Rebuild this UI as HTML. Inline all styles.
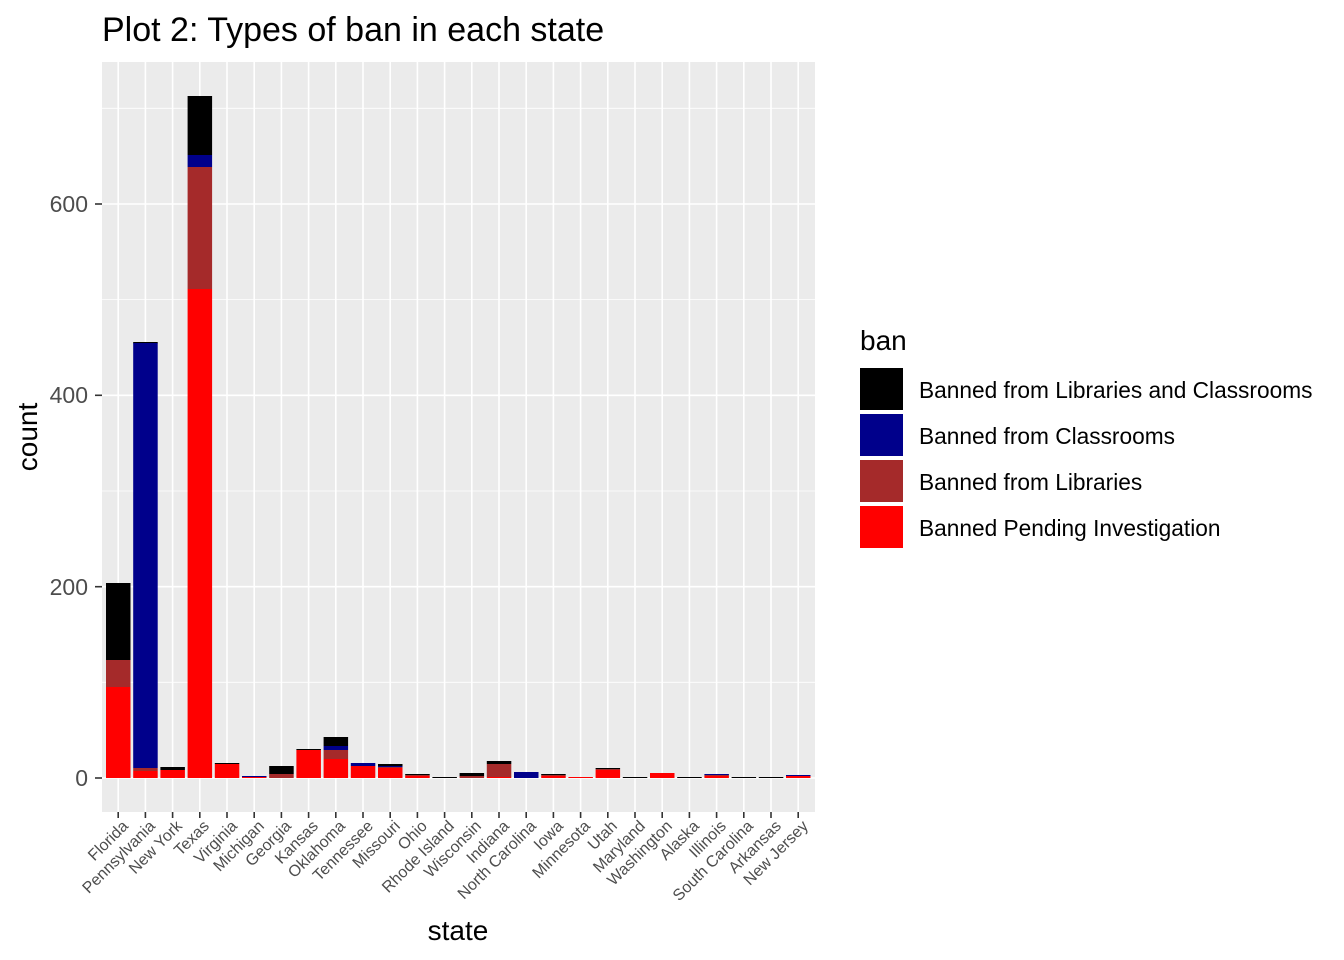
<!DOCTYPE html>
<html><head><meta charset="utf-8"><style>body{margin:0;background:#fff}svg{display:block;font-family:"Liberation Sans",Arial,sans-serif}</style></head><body>
<svg width="1344" height="960" viewBox="0 0 1344 960">
<rect width="1344" height="960" fill="#fff"/>
<text x="102" y="41" font-size="34" fill="#000">Plot 2: Types of ban in each state</text>
<rect x="102" y="62" width="713" height="750" fill="#ebebeb"/>
<g stroke="#fff" stroke-width="0.8">
<line x1="102" x2="815" y1="682.3" y2="682.3"/><line x1="102" x2="815" y1="491" y2="491"/><line x1="102" x2="815" y1="299.6" y2="299.6"/><line x1="102" x2="815" y1="108.3" y2="108.3"/>
</g>
<g stroke="#fff" stroke-width="1.6">
<line x1="102" x2="815" y1="778" y2="778"/><line x1="102" x2="815" y1="586.7" y2="586.7"/><line x1="102" x2="815" y1="395.3" y2="395.3"/><line x1="102" x2="815" y1="204" y2="204"/>
<line x1="118.2" x2="118.2" y1="62" y2="812"/><line x1="145.4" x2="145.4" y1="62" y2="812"/><line x1="172.6" x2="172.6" y1="62" y2="812"/><line x1="199.8" x2="199.8" y1="62" y2="812"/><line x1="227" x2="227" y1="62" y2="812"/><line x1="254.2" x2="254.2" y1="62" y2="812"/><line x1="281.4" x2="281.4" y1="62" y2="812"/><line x1="308.6" x2="308.6" y1="62" y2="812"/><line x1="335.8" x2="335.8" y1="62" y2="812"/><line x1="363" x2="363" y1="62" y2="812"/><line x1="390.2" x2="390.2" y1="62" y2="812"/><line x1="417.4" x2="417.4" y1="62" y2="812"/><line x1="444.6" x2="444.6" y1="62" y2="812"/><line x1="471.8" x2="471.8" y1="62" y2="812"/><line x1="499" x2="499" y1="62" y2="812"/><line x1="526.2" x2="526.2" y1="62" y2="812"/><line x1="553.4" x2="553.4" y1="62" y2="812"/><line x1="580.6" x2="580.6" y1="62" y2="812"/><line x1="607.8" x2="607.8" y1="62" y2="812"/><line x1="635" x2="635" y1="62" y2="812"/><line x1="662.2" x2="662.2" y1="62" y2="812"/><line x1="689.4" x2="689.4" y1="62" y2="812"/><line x1="716.6" x2="716.6" y1="62" y2="812"/><line x1="743.8" x2="743.8" y1="62" y2="812"/><line x1="771" x2="771" y1="62" y2="812"/><line x1="798.2" x2="798.2" y1="62" y2="812"/>
</g>
<g>
<rect x="106" y="583" width="24.5" height="77" fill="#000"/><rect x="106" y="660" width="24.5" height="27" fill="#A52A2A"/><rect x="106" y="687" width="24.5" height="91" fill="#f00"/>
<rect x="133.2" y="342" width="24.5" height="1.5" fill="#000"/><rect x="133.2" y="343" width="24.5" height="425" fill="#00008B"/><rect x="133.2" y="768" width="24.5" height="3" fill="#A52A2A"/><rect x="133.2" y="771" width="24.5" height="7" fill="#f00"/>
<rect x="160.4" y="767" width="24.5" height="3" fill="#000"/><rect x="160.4" y="770" width="24.5" height="8" fill="#f00"/>
<rect x="187.6" y="96" width="24.5" height="59" fill="#000"/><rect x="187.6" y="155" width="24.5" height="12" fill="#00008B"/><rect x="187.6" y="167" width="24.5" height="122" fill="#A52A2A"/><rect x="187.6" y="289" width="24.5" height="489" fill="#f00"/>
<rect x="214.8" y="763" width="24.5" height="1" fill="#000"/><rect x="214.8" y="764" width="24.5" height="14" fill="#f00"/>
<rect x="242" y="776" width="24.5" height="1" fill="#00008B"/><rect x="242" y="777" width="24.5" height="1" fill="#f00"/>
<rect x="269.2" y="766" width="24.5" height="8" fill="#000"/><rect x="269.2" y="774" width="24.5" height="4" fill="#A52A2A"/>
<rect x="296.4" y="749" width="24.5" height="1" fill="#000"/><rect x="296.4" y="750" width="24.5" height="28" fill="#f00"/>
<rect x="323.6" y="737" width="24.5" height="9" fill="#000"/><rect x="323.6" y="746" width="24.5" height="4" fill="#00008B"/><rect x="323.6" y="750" width="24.5" height="9" fill="#A52A2A"/><rect x="323.6" y="759" width="24.5" height="19" fill="#f00"/>
<rect x="350.8" y="763" width="24.5" height="3" fill="#00008B"/><rect x="350.8" y="766" width="24.5" height="12" fill="#f00"/>
<rect x="378" y="764" width="24.5" height="2" fill="#000"/><rect x="378" y="766" width="24.5" height="1" fill="#00008B"/><rect x="378" y="767" width="24.5" height="1" fill="#A52A2A"/><rect x="378" y="768" width="24.5" height="10" fill="#f00"/>
<rect x="405.2" y="774" width="24.5" height="1" fill="#000"/><rect x="405.2" y="775" width="24.5" height="1" fill="#A52A2A"/><rect x="405.2" y="776" width="24.5" height="2" fill="#f00"/>
<rect x="432.4" y="777" width="24.5" height="1" fill="#000"/>
<rect x="459.6" y="773" width="24.5" height="3" fill="#000"/><rect x="459.6" y="776" width="24.5" height="2" fill="#A52A2A"/>
<rect x="486.8" y="761" width="24.5" height="3" fill="#000"/><rect x="486.8" y="764" width="24.5" height="13" fill="#A52A2A"/><rect x="486.8" y="777" width="24.5" height="1" fill="#f00"/>
<rect x="514" y="772" width="24.5" height="6" fill="#00008B"/>
<rect x="541.2" y="774" width="24.5" height="1" fill="#000"/><rect x="541.2" y="775" width="24.5" height="1" fill="#A52A2A"/><rect x="541.2" y="776" width="24.5" height="2" fill="#f00"/>
<rect x="568.4" y="777" width="24.5" height="1" fill="#f00"/>
<rect x="595.6" y="768" width="24.5" height="1" fill="#000"/><rect x="595.6" y="769" width="24.5" height="1" fill="#A52A2A"/><rect x="595.6" y="770" width="24.5" height="8" fill="#f00"/>
<rect x="622.8" y="777" width="24.5" height="1" fill="#000"/>
<rect x="650" y="773" width="24.5" height="5" fill="#f00"/>
<rect x="677.2" y="777" width="24.5" height="1" fill="#000"/>
<rect x="704.4" y="774" width="24.5" height="1" fill="#00008B"/><rect x="704.4" y="775" width="24.5" height="1" fill="#A52A2A"/><rect x="704.4" y="776" width="24.5" height="2" fill="#f00"/>
<rect x="731.6" y="777" width="24.5" height="1" fill="#000"/>
<rect x="758.8" y="777" width="24.5" height="1" fill="#000"/>
<rect x="786" y="775" width="24.5" height="1" fill="#00008B"/><rect x="786" y="776" width="24.5" height="2" fill="#f00"/>
</g>
<g stroke="#333" stroke-width="1.6">
<line x1="95" x2="102" y1="778" y2="778"/><line x1="95" x2="102" y1="586.7" y2="586.7"/><line x1="95" x2="102" y1="395.3" y2="395.3"/><line x1="95" x2="102" y1="204" y2="204"/>
<line x1="118.2" x2="118.2" y1="812" y2="818"/><line x1="145.4" x2="145.4" y1="812" y2="818"/><line x1="172.6" x2="172.6" y1="812" y2="818"/><line x1="199.8" x2="199.8" y1="812" y2="818"/><line x1="227" x2="227" y1="812" y2="818"/><line x1="254.2" x2="254.2" y1="812" y2="818"/><line x1="281.4" x2="281.4" y1="812" y2="818"/><line x1="308.6" x2="308.6" y1="812" y2="818"/><line x1="335.8" x2="335.8" y1="812" y2="818"/><line x1="363" x2="363" y1="812" y2="818"/><line x1="390.2" x2="390.2" y1="812" y2="818"/><line x1="417.4" x2="417.4" y1="812" y2="818"/><line x1="444.6" x2="444.6" y1="812" y2="818"/><line x1="471.8" x2="471.8" y1="812" y2="818"/><line x1="499" x2="499" y1="812" y2="818"/><line x1="526.2" x2="526.2" y1="812" y2="818"/><line x1="553.4" x2="553.4" y1="812" y2="818"/><line x1="580.6" x2="580.6" y1="812" y2="818"/><line x1="607.8" x2="607.8" y1="812" y2="818"/><line x1="635" x2="635" y1="812" y2="818"/><line x1="662.2" x2="662.2" y1="812" y2="818"/><line x1="689.4" x2="689.4" y1="812" y2="818"/><line x1="716.6" x2="716.6" y1="812" y2="818"/><line x1="743.8" x2="743.8" y1="812" y2="818"/><line x1="771" x2="771" y1="812" y2="818"/><line x1="798.2" x2="798.2" y1="812" y2="818"/>
</g>
<g font-size="23" fill="#4d4d4d" text-anchor="end">
<text x="88" y="786">0</text><text x="88" y="595">200</text><text x="88" y="403">400</text><text x="88" y="212">600</text>
</g>
<g font-size="16" fill="#4d4d4d" text-anchor="end">
<text transform="translate(129,827) rotate(-45)">Florida</text>
<text transform="translate(156,827) rotate(-45)">Pennsylvania</text>
<text transform="translate(183,827) rotate(-45)">New York</text>
<text transform="translate(210,827) rotate(-45)">Texas</text>
<text transform="translate(238,827) rotate(-45)">Virginia</text>
<text transform="translate(265,827) rotate(-45)">Michigan</text>
<text transform="translate(292,827) rotate(-45)">Georgia</text>
<text transform="translate(319,827) rotate(-45)">Kansas</text>
<text transform="translate(346,827) rotate(-45)">Oklahoma</text>
<text transform="translate(374,827) rotate(-45)">Tennessee</text>
<text transform="translate(401,827) rotate(-45)">Missouri</text>
<text transform="translate(428,827) rotate(-45)">Ohio</text>
<text transform="translate(455,827) rotate(-45)">Rhode Island</text>
<text transform="translate(482,827) rotate(-45)">Wisconsin</text>
<text transform="translate(510,827) rotate(-45)">Indiana</text>
<text transform="translate(537,827) rotate(-45)">North Carolina</text>
<text transform="translate(564,827) rotate(-45)">Iowa</text>
<text transform="translate(591,827) rotate(-45)">Minnesota</text>
<text transform="translate(618,827) rotate(-45)">Utah</text>
<text transform="translate(646,827) rotate(-45)">Maryland</text>
<text transform="translate(673,827) rotate(-45)">Washington</text>
<text transform="translate(700,827) rotate(-45)">Alaska</text>
<text transform="translate(727,827) rotate(-45)">Illinois</text>
<text transform="translate(754,827) rotate(-45)">South Carolina</text>
<text transform="translate(782,827) rotate(-45)">Arkansas</text>
<text transform="translate(809,827) rotate(-45)">New Jersey</text>
</g>
<text x="458" y="940" font-size="28" text-anchor="middle" fill="#000">state</text>
<text transform="translate(37,437) rotate(-90)" font-size="28" text-anchor="middle" fill="#000">count</text>
<text x="860" y="350" font-size="28" fill="#000">ban</text>
<rect x="860" y="368" width="43" height="42" fill="#000"/>
<rect x="860" y="414" width="43" height="42" fill="#00008B"/>
<rect x="860" y="460" width="43" height="42" fill="#A52A2A"/>
<rect x="860" y="506" width="43" height="42" fill="#f00"/>
<g font-size="22.7" fill="#000">
<text x="919" y="398">Banned from Libraries and Classrooms</text>
<text x="919" y="444">Banned from Classrooms</text>
<text x="919" y="490">Banned from Libraries</text>
<text x="919" y="536">Banned Pending Investigation</text>
</g>
</svg>
</body></html>
